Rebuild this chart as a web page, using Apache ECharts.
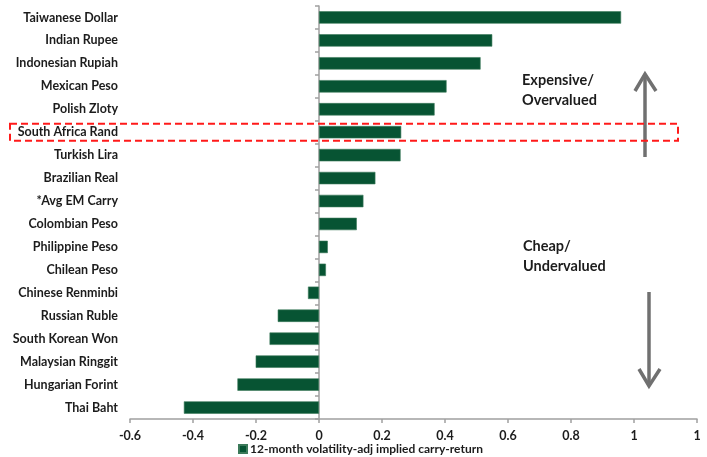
<!DOCTYPE html>
<html>
<head>
<meta charset="utf-8">
<script src="https://cdn.jsdelivr.net/npm/echarts@6/dist/echarts.min.js"></script>
<style>
  html, body { margin: 0; padding: 0; background: #ffffff; }
  #chart { width: 707px; height: 457px; }
</style>
</head>
<body>
<div id="chart"></div>
<script>
// Currencies, listed top to bottom
const currencies = [
  'Taiwanese Dollar', 'Indian Rupee', 'Indonesian Rupiah', 'Mexican Peso',
  'Polish Zloty', 'South Africa Rand', 'Turkish Lira', 'Brazilian Real',
  '*Avg EM Carry', 'Colombian Peso', 'Philippine Peso', 'Chilean Peso',
  'Chinese Renminbi', 'Russian Ruble', 'South Korean Won', 'Malaysian Ringgit',
  'Hungarian Forint', 'Thai Baht'
];

// 12-month volatility-adjusted implied carry-return
const carryReturn = [
  0.959, 0.550, 0.513, 0.405,
  0.367, 0.261, 0.259, 0.179,
  0.141, 0.120, 0.028, 0.022,
  -0.035, -0.131, -0.157, -0.201,
  -0.259, -0.429
];

// Value-axis tick labels, from -0.6 upward in steps of 0.2
const xTickLabels = ['-0.6', '-0.4', '-0.2', '0', '0.2', '0.4', '0.6', '0.8', '1', '1'];

const seriesName = '12-month volatility-adj implied carry-return';
const highlighted = 'South Africa Rand';

const FONT = 'Lato, "Open Sans", sans-serif';
const TEXT = '#1c1c1c';
const AXIS = '#a0a0a0';
const GREEN = '#075433';
const X_MIN = -0.6, X_MAX = 1.2, X_STEP = 0.2;

const chart = echarts.init(document.getElementById('chart'));

chart.setOption({
  animation: false,
  backgroundColor: '#ffffff',
  grid: { left: 130, right: 10, top: 6, bottom: 38, containLabel: false },
  legend: {
    left: 233,
    bottom: -3,
    itemWidth: 8,
    itemHeight: 8,
    itemGap: 4,
    icon: 'rect',
    textStyle: { fontFamily: FONT, fontWeight: 'bold', fontSize: 12, color: TEXT, padding: [0, 0, 0, -2] },
    data: [seriesName]
  },
  xAxis: {
    type: 'value',
    min: X_MIN,
    max: X_MAX,
    interval: X_STEP,
    axisLine: { show: true, lineStyle: { color: AXIS, width: 1.5 } },
    axisTick: { show: true, length: 4, lineStyle: { color: AXIS, width: 1.5 } },
    splitLine: { show: false },
    axisLabel: {
      margin: 10,
      fontFamily: FONT,
      fontWeight: 'bold',
      fontSize: 12.5,
      color: TEXT,
      showMaxLabel: true,
      formatter: function (v) {
        const i = Math.round((v - X_MIN) / X_STEP);
        return xTickLabels[i] !== undefined ? xTickLabels[i] : '';
      }
    }
  },
  yAxis: [
    {
      // category names at the left edge of the plot
      type: 'category',
      data: currencies,
      inverse: true,
      position: 'left',
      axisLine: { show: false, onZero: false },
      axisTick: { show: false },
      axisLabel: {
        margin: 12,
        fontFamily: FONT,
        fontWeight: 'bold',
        fontSize: 12.5,
        color: TEXT
      }
    },
    {
      // the vertical axis line drawn through zero
      type: 'category',
      data: currencies,
      inverse: true,
      position: 'left',
      axisLine: { show: true, onZero: true, onZeroAxisIndex: 0, lineStyle: { color: AXIS, width: 1.5 } },
      axisTick: { show: true, length: 4, alignWithLabel: false, lineStyle: { color: AXIS, width: 1.5 } },
      axisLabel: { show: false }
    }
  ],
  series: [
    {
      name: seriesName,
      type: 'bar',
      yAxisIndex: 0,
      data: carryReturn,
      barCategoryGap: '46%',
      itemStyle: { color: GREEN, borderColor: '#3c7a5a', borderWidth: 0.6 }
    }
  ]
});

// Annotations: valuation notes, direction arrows and highlight box
function drawAnnotations() {
  const rowY = chart.convertToPixel({ yAxisIndex: 0 }, highlighted);
  const arrowColor = '#707070';
  const label = (x, y, text) => ({
    type: 'text', left: x, top: y,
    style: { text: text, fontFamily: FONT, fontWeight: 'bold', fontSize: 14.5, fill: TEXT, lineHeight: 20 }
  });
  chart.setOption({
    graphic: [
      label(522, 70, 'Expensive/\nOvervalued'),
      label(523, 236, 'Cheap/\nUndervalued'),
      { type: 'line', shape: { x1: 645, y1: 157, x2: 645, y2: 75 }, style: { stroke: arrowColor, lineWidth: 3.5 } },
      { type: 'polyline', shape: { points: [[635, 91], [645, 74], [656, 91]] }, style: { stroke: arrowColor, lineWidth: 3.5, fill: null } },
      { type: 'line', shape: { x1: 649, y1: 292, x2: 649, y2: 385 }, style: { stroke: arrowColor, lineWidth: 3.5 } },
      { type: 'polyline', shape: { points: [[639, 369], [649, 386], [660, 369]] }, style: { stroke: arrowColor, lineWidth: 3.5, fill: null } },
      {
        type: 'rect',
        shape: { x: 10, y: rowY - 8.5, width: 668, height: 17 },
        style: { stroke: '#ff1a1a', lineWidth: 2, fill: null, lineDash: [7, 4] },
        z: 100
      }
    ]
  });
}
drawAnnotations();
</script>
</body>
</html>
